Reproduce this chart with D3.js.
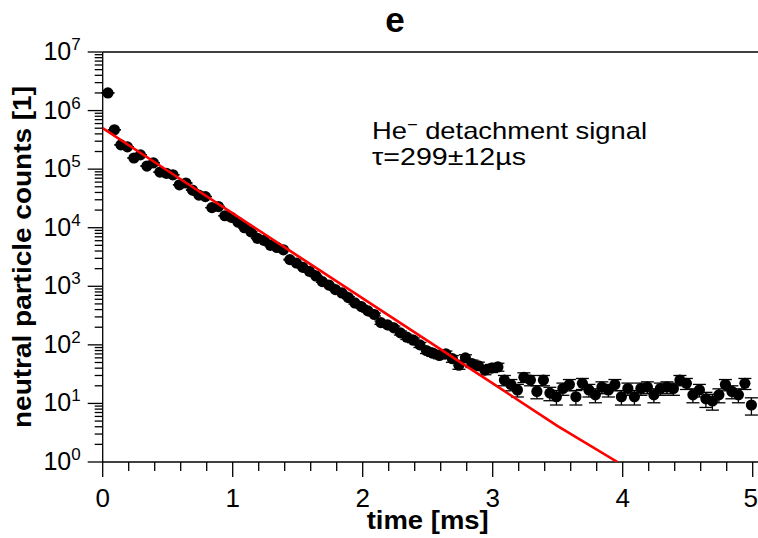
<!DOCTYPE html>
<html>
<head>
<meta charset="utf-8">
<script src="https://cdn.jsdelivr.net/npm/d3@7"></script>
<style>
  body { margin: 0; background: #fff; }
  svg { display: block; font-family: "Liberation Sans", Arial, Helvetica, sans-serif; }
</style>
</head>
<body>
<div id="chart"></div>
<script>
// measured time bins [ms]
const times = [
  0.04, 0.09, 0.14, 0.19, 0.24, 0.29, 0.34, 0.39, 0.44, 0.49,
  0.54, 0.59, 0.64, 0.69, 0.74, 0.79, 0.84, 0.89, 0.94, 0.99,
  1.04, 1.09, 1.14, 1.19, 1.24, 1.29, 1.34, 1.39, 1.44, 1.49,
  1.54, 1.59, 1.64, 1.69, 1.74, 1.79, 1.84, 1.89, 1.94, 1.99,
  2.04, 2.09, 2.14, 2.19, 2.24, 2.29, 2.34, 2.39, 2.44, 2.49,
  2.54, 2.59, 2.64, 2.69, 2.74, 2.79, 2.84, 2.89, 2.94, 2.99,
  3.04, 3.09, 3.14, 3.19, 3.24, 3.29, 3.34, 3.39, 3.44, 3.49,
  3.54, 3.59, 3.64, 3.69, 3.74, 3.79, 3.84, 3.89, 3.94, 3.99,
  4.04, 4.09, 4.14, 4.19, 4.24, 4.29, 4.34, 4.39, 4.44, 4.49,
  4.54, 4.59, 4.64, 4.69, 4.74, 4.79, 4.84, 4.89, 4.94, 4.99
];
// neutral particle counts per bin
const counts = [
  2.0e6, 4.7e5, 2.6e5, 2.4e5, 1.55e5, 1.75e5, 1.13e5, 1.28e5, 8.9e4, 8.5e4,
  8.0e4, 5.4e4, 5.8e4, 4.4e4, 3.6e4, 3.4e4, 2.2e4, 2.3e4, 1.6e4, 1.5e4,
  1.25e4, 1.0e4, 8.5e3, 6.6e3, 6.1e3, 5.0e3, 4.6e3, 4.2e3, 2.85e3, 2.5e3,
  2.1e3, 1.8e3, 1.5e3, 1.2e3, 1.05e3, 880, 770, 640, 520, 450,
  380, 330, 240, 220, 195, 160, 135, 120, 100, 80,
  72, 66, 70, 58, 45, 60, 48, 44, 37, 40,
  42, 25, 21, 17, 28, 25, 16, 25, 15, 13,
  18, 21, 13, 22, 17, 14, 19, 17, 21, 13,
  18, 13, 18, 19, 14, 18, 19, 18, 25, 22,
  14, 17, 12, 11, 14, 21, 16, 14, 22, 9.4
];
// exponential fit, tau = 299 us
const fitTimes = [0, 0.5, 1.0, 1.5, 2.0, 2.5, 3.0, 3.5, 3.96];
const fitCounts = [5.0e5, 9.4e4, 1.76e4, 3.3e3, 620, 117, 22, 4.1, 1.0];

const xTicks = [0, 1, 2, 3, 4, 5];
const yDecades = [0, 1, 2, 3, 4, 5, 6, 7];

const width = 758, height = 538;
const margin = {top: 52, right: 5.3, bottom: 76, left: 102.7};

const svg = d3.select('#chart').append('svg')
  .attr('width', width)
  .attr('height', height);

const x = d3.scaleLinear()
  .domain([0, 5])
  .range([margin.left, width - margin.right]);

const y = d3.scaleLog()
  .domain([1, 1e7])
  .range([height - margin.bottom, margin.top]);

const data = times.map((t, i) => ({t: t, v: counts[i], err: Math.sqrt(counts[i])}));

// clip for the fit line
svg.append('clipPath').attr('id', 'plotclip')
  .append('rect')
  .attr('x', margin.left).attr('y', margin.top)
  .attr('width', width - margin.left).attr('height', height - margin.bottom - margin.top);

// frame top line
svg.append('line')
  .attr('x1', margin.left).attr('x2', width)
  .attr('y1', margin.top).attr('y2', margin.top)
  .attr('stroke', '#000').attr('stroke-width', 1.3);

// x axis
const xMinor = d3.range(0, 5.01, 0.2).filter(d => Math.abs(d - Math.round(d)) > 1e-6);
const xAxisG = svg.append('g')
  .attr('transform', `translate(0,${height - margin.bottom})`);
xAxisG.append('line')
  .attr('x1', margin.left).attr('x2', width)
  .attr('stroke', '#000').attr('stroke-width', 1.3);
xAxisG.selectAll('.minor').data(xMinor).join('line')
  .attr('class', 'minor')
  .attr('x1', d => x(d)).attr('x2', d => x(d))
  .attr('y1', 0).attr('y2', 9)
  .attr('stroke', '#000').attr('stroke-width', 1.3);
xAxisG.selectAll('.major').data(xTicks).join('line')
  .attr('class', 'major')
  .attr('x1', d => x(d)).attr('x2', d => x(d))
  .attr('y1', 0).attr('y2', 15)
  .attr('stroke', '#000').attr('stroke-width', 1.3);
xAxisG.selectAll('text').data(xTicks).join('text')
  .attr('x', d => x(d) - (d === 5 ? 2 : 0))
  .attr('y', 45)
  .attr('text-anchor', 'middle')
  .attr('font-size', 26)
  .text(d => d);

// y axis
const yAxisG = svg.append('g');
yAxisG.append('line')
  .attr('x1', margin.left).attr('x2', margin.left)
  .attr('y1', margin.top).attr('y2', height - margin.bottom)
  .attr('stroke', '#000').attr('stroke-width', 1.3);
const yMinor = [];
yDecades.slice(0, -1).forEach(e => {
  for (let k = 2; k <= 9; k++) yMinor.push(k * Math.pow(10, e));
});
yAxisG.selectAll('.minor').data(yMinor).join('line')
  .attr('class', 'minor')
  .attr('x1', margin.left - 8).attr('x2', margin.left)
  .attr('y1', d => y(d)).attr('y2', d => y(d))
  .attr('stroke', '#000').attr('stroke-width', 1.3);
yAxisG.selectAll('.major').data(yDecades).join('line')
  .attr('class', 'major')
  .attr('x1', margin.left - 15).attr('x2', margin.left)
  .attr('y1', d => y(Math.pow(10, d))).attr('y2', d => y(Math.pow(10, d)))
  .attr('stroke', '#000').attr('stroke-width', 1.3);
const yLab = yAxisG.selectAll('.ylab').data(yDecades).join('text')
  .attr('class', 'ylab')
  .attr('x', margin.left - 22)
  .attr('y', d => y(Math.pow(10, d)) + 8)
  .attr('text-anchor', 'end');
yLab.append('tspan').attr('font-size', 25).text('10');
yLab.append('tspan').attr('font-size', 17).attr('dy', -10).text(d => d);

// axis titles
svg.append('text')
  .attr('transform', `translate(31,${(margin.top + height - margin.bottom) / 2}) rotate(-90)`)
  .attr('text-anchor', 'middle')
  .attr('font-size', 26)
  .attr('font-weight', 'bold')
  .attr('textLength', 342)
  .attr('lengthAdjust', 'spacingAndGlyphs')
  .text('neutral particle counts [1]');

svg.append('text')
  .attr('x', (x(0) + x(5)) / 2)
  .attr('y', 529)
  .attr('text-anchor', 'middle')
  .attr('font-size', 25)
  .attr('font-weight', 'bold')
  .attr('textLength', 122)
  .attr('lengthAdjust', 'spacingAndGlyphs')
  .text('time [ms]');

svg.append('text')
  .attr('x', 395)
  .attr('y', 32)
  .attr('text-anchor', 'middle')
  .attr('font-size', 35)
  .attr('font-weight', 'bold')
  .text('e');

// annotation
const ann = svg.append('text')
  .attr('x', 372).attr('y', 139)
  .attr('font-size', 24)
  .attr('textLength', 275)
  .attr('lengthAdjust', 'spacingAndGlyphs');
ann.append('tspan').text('He');
ann.append('tspan').attr('font-size', 16).attr('dy', -9).text('\u2212');
ann.append('tspan').attr('dy', 9).text(' detachment signal');
svg.append('text')
  .attr('x', 372).attr('y', 165)
  .attr('font-size', 24)
  .attr('textLength', 154)
  .attr('lengthAdjust', 'spacingAndGlyphs')
  .text('\u03c4=299\u00b112\u00b5s');

// data: error bars
const eb = svg.append('g').attr('stroke', '#000').attr('stroke-width', 1.3);
const capW = 6.5;
eb.selectAll('.bar').data(data).join('line')
  .attr('class', 'bar')
  .attr('x1', d => x(d.t)).attr('x2', d => x(d.t))
  .attr('y1', d => y(d.v + d.err)).attr('y2', d => y(Math.max(d.v - d.err, 1)));
eb.selectAll('.capTop').data(data).join('line')
  .attr('class', 'capTop')
  .attr('x1', d => x(d.t) - capW).attr('x2', d => x(d.t) + capW)
  .attr('y1', d => y(d.v + d.err)).attr('y2', d => y(d.v + d.err));
eb.selectAll('.capBot').data(data).join('line')
  .attr('class', 'capBot')
  .attr('x1', d => x(d.t) - capW).attr('x2', d => x(d.t) + capW)
  .attr('y1', d => y(Math.max(d.v - d.err, 1))).attr('y2', d => y(Math.max(d.v - d.err, 1)));

// data: markers
svg.append('g').selectAll('circle').data(data).join('circle')
  .attr('cx', d => x(d.t))
  .attr('cy', d => y(d.v))
  .attr('r', 5.6)
  .attr('fill', '#000');

// fit line
const fitLine = d3.line()
  .x((d, i) => x(fitTimes[i]))
  .y(d => y(d));
svg.append('path')
  .datum(fitCounts)
  .attr('clip-path', 'url(#plotclip)')
  .attr('d', fitLine)
  .attr('fill', 'none')
  .attr('stroke', '#f00')
  .attr('stroke-width', 2.6);
</script>
</body>
</html>
